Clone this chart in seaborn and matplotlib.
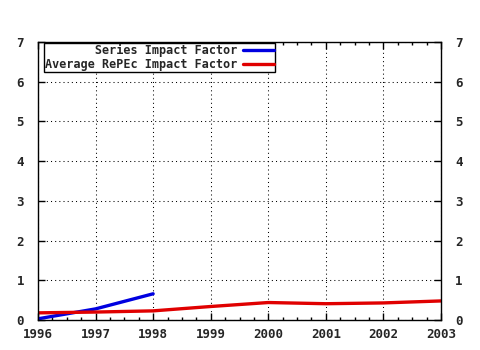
import matplotlib
matplotlib.use("Agg")
import matplotlib.pyplot as plt
from matplotlib.ticker import MultipleLocator
import seaborn as sns
import pandas as pd

years_series = [1996, 1997, 1998]
series_if = [0.03, 0.28, 0.66]

years_avg = [1996, 1997, 1998, 1999, 2000, 2001, 2002, 2003]
avg_if = [0.18, 0.20, 0.23, 0.34, 0.44, 0.41, 0.43, 0.48]

label_series = "Series Impact Factor"
label_avg = "Average RePEc Impact Factor"

sns.set_theme(style="white")
plt.rcParams["font.family"] = ["DejaVu Sans Mono"]
plt.rcParams["font.weight"] = "bold"
plt.rcParams["font.size"] = 8.5

df_s = pd.DataFrame({"year": years_series, "value": series_if})
df_a = pd.DataFrame({"year": years_avg, "value": avg_if})

fig = plt.figure(figsize=(4.8, 3.5), dpi=100)
ax = fig.add_axes([38 / 480, 30 / 350, 403 / 480, 278 / 350])

width = max(len(label_series), len(label_avg))
sns.lineplot(data=df_s, x="year", y="value", ax=ax, color="#0000e0", lw=2.4,
             label=label_series.rjust(width))
sns.lineplot(data=df_a, x="year", y="value", ax=ax, color="#e00000", lw=2.4,
             label=label_avg.rjust(width))

ax.set_xlim(1996, 2003)
ax.set_ylim(0, 7)
ax.xaxis.set_major_locator(MultipleLocator(1))
ax.xaxis.set_minor_locator(MultipleLocator(0.25))
ax.yaxis.set_major_locator(MultipleLocator(1))
ax.set_xlabel("")
ax.set_ylabel("")

ax.grid(True, which="major", color="black", linestyle=(0, (1, 3)), linewidth=0.75)
for s in ax.spines.values():
    s.set_color("black")
    s.set_linewidth(1)

ax.tick_params(axis="y", which="major", direction="in", length=5, width=1,
               color="black", left=True, right=True, labelright=True,
               labelsize=9, pad=10)
ax.tick_params(axis="x", which="major", direction="in", length=5, width=1,
               color="black", top=True, bottom=True, labelsize=9, pad=6)
ax.tick_params(axis="x", which="minor", direction="in", length=2.5, width=1,
               color="black", top=True, bottom=True)
for t in ax.get_xticklabels() + ax.get_yticklabels():
    t.set_fontweight("bold")

leg = ax.legend(loc="upper left", bbox_to_anchor=(6 / 403, 1 - 1 / 278),
                markerfirst=False, frameon=True, fancybox=False,
                borderaxespad=0, borderpad=0.1, handlelength=2.6, handletextpad=0.5,
                labelspacing=0.05,
                prop={"family": "DejaVu Sans Mono", "weight": "bold", "size": 8.5})
leg.get_frame().set_edgecolor("black")
leg.get_frame().set_linewidth(1)
leg.get_frame().set_alpha(1)

fig.savefig("out.png", dpi=100)
